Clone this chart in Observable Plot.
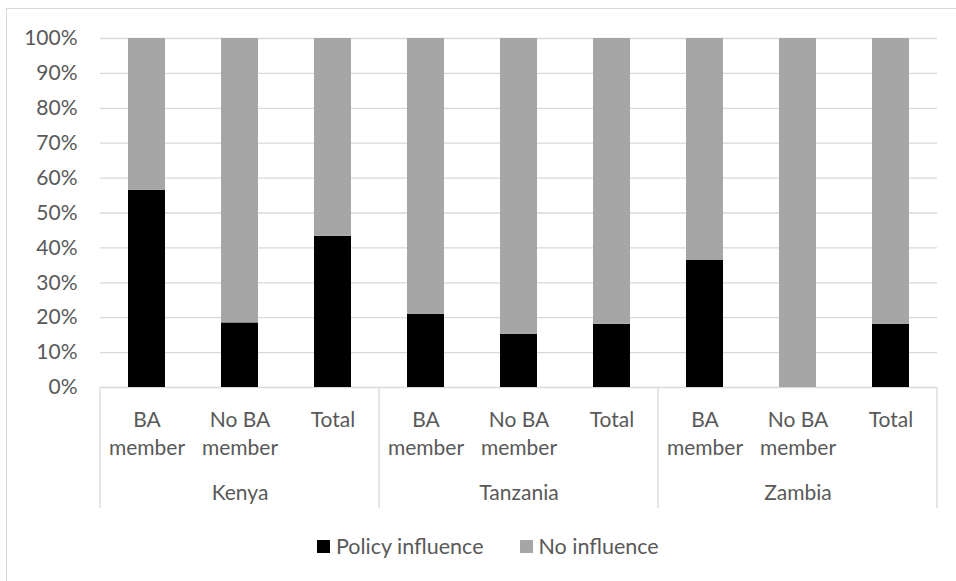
<!DOCTYPE html>
<html><head><meta charset="utf-8">
<script src="https://cdn.jsdelivr.net/npm/d3@7"></script>
<script src="https://cdn.jsdelivr.net/npm/@observablehq/plot@0.6"></script>
<style>
html,body{margin:0;padding:0;background:#fff;overflow:hidden;width:956px;height:581px;font-family:Lato,sans-serif;}
#frame{position:absolute;left:6px;top:8px;width:1000px;height:1000px;border:1.5px solid #d9d9d9;box-sizing:border-box;}
#chart{position:absolute;left:0;top:0;}
#legend{position:absolute;left:317px;top:531px;height:30px;display:flex;align-items:center;font-size:21.5px;color:#595959;white-space:nowrap;}
.item{display:flex;align-items:center;margin-right:36px;}
.sw{width:13px;height:13px;margin-right:6px;}
</style>
</head><body>
<div id="frame"></div>
<div id="chart"></div>
<div id="legend"></div>
<script>
const countries = ["Kenya", "Tanzania", "Zambia"];
const groups = ["BA member", "No BA member", "Total"];
const groupLabels = ["BA\nmember", "No BA\nmember", "Total"];
const seriesNames = ["Policy influence", "No influence"];
const seriesColors = ["#000000", "#a6a6a6"];
const policyInfluence = [0.565, 0.185, 0.433, 0.210, 0.152, 0.181, 0.365, 0.0, 0.181];
const noInfluence = [0.435, 0.815, 0.567, 0.790, 0.848, 0.819, 0.635, 1.0, 0.819];
const yTicks = [0, 0.1, 0.2, 0.3, 0.4, 0.5, 0.6, 0.7, 0.8, 0.9, 1.0];

const keys = countries.flatMap(c => groups.map(g => c + "|" + g));
const rows = [];
keys.forEach((k, i) => {
  rows.push({key: k, series: seriesNames[0], value: policyInfluence[i]});
  rows.push({key: k, series: seriesNames[1], value: noInfluence[i]});
});
const subLabels = keys.map((k, i) => ({key: k, label: groupLabels[i % 3]}));
const countryLabels = countries.map(c => ({key: c + "|" + groups[1], label: c}));

function dividers(index, scales, values, dims) {
  const x = scales.x, y = scales.y;
  const bw = typeof x.bandwidth === "function" ? x.bandwidth() : (x.bandwidth ?? 0);
  const xs = [dims.marginLeft];
  for (let i = 1; i < countries.length; i++) {
    xs.push((x(keys[3 * i - 1]) + x(keys[3 * i])) / 2 + bw / 2);
  }
  xs.push(dims.width - dims.marginRight);
  const g = d3.create("svg:g");
  const y0 = y(0);
  g.selectAll("line").data(xs).join("line")
    .attr("x1", d => d).attr("x2", d => d)
    .attr("y1", y0).attr("y2", y0 + 121)
    .attr("stroke", "#d9d9d9").attr("stroke-width", 1.3);
  return g.node();
}

const chart = Plot.plot({
  width: 956,
  height: 520,
  marginLeft: 100,
  marginRight: 19,
  marginTop: 38,
  marginBottom: 133,
  style: {fontFamily: "Lato, sans-serif", fontSize: "21px", color: "#595959", background: "transparent", overflow: "visible"},
  x: {domain: keys, paddingInner: 0.6, paddingOuter: 0.3, axis: null},
  y: {domain: [0, 1], ticks: yTicks, tickFormat: d3.format(".0%"), tickSize: 0, tickPadding: 23, label: null},
  color: {domain: seriesNames, range: seriesColors},
  marks: [
    Plot.ruleY(yTicks, {stroke: "#d9d9d9", strokeWidth: 1.3}),
    Plot.barY(rows, {x: "key", y: "value", fill: "series", order: seriesNames}),
    dividers,
    Plot.text(subLabels, {x: "key", y: () => 0, text: "label", lineAnchor: "top", dy: 19, lineHeight: 1.36, fill: "#595959", fontSize: 21}),
    Plot.text(countryLabels, {x: "key", y: () => 0, text: "label", lineAnchor: "top", dy: 98, fill: "#595959", fontSize: 21})
  ]
});
document.getElementById("chart").appendChild(chart);

const legend = document.getElementById("legend");
seriesNames.forEach((s, i) => {
  const item = document.createElement("div");
  item.className = "item";
  const sw = document.createElement("div");
  sw.className = "sw";
  sw.style.background = seriesColors[i];
  const tx = document.createElement("span");
  tx.textContent = s;
  item.appendChild(sw); item.appendChild(tx);
  legend.appendChild(item);
});
</script>
</body></html>
